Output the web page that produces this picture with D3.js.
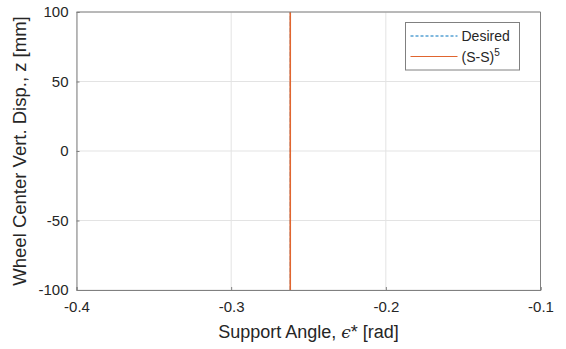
<!DOCTYPE html>
<html>
<head>
<meta charset="utf-8">
<script src="https://cdn.jsdelivr.net/npm/d3@7"></script>
<style>
  body { margin: 0; background: #fff; }
  text { font-family: "Liberation Sans", Arial, sans-serif; fill: #262626; }
</style>
</head>
<body>
<div id="chart"></div>
<script>
// series data
const desiredX = [-0.2618, -0.2618];
const desiredZ = [-100, 100];
const ssX = [-0.2618, -0.2618];
const ssZ = [-100, 100];

const xTicks = [-0.4, -0.3, -0.2, -0.1];
const yTicks = [-100, -50, 0, 50, 100];
const legendLabels = ['Desired', '(S-S)'];

const width = 566, height = 349;
const margin = {top: 12, right: 25.5, bottom: 59, left: 76.5};

const svg = d3.select('#chart').append('svg')
    .attr('width', width)
    .attr('height', height);

const x = d3.scaleLinear().domain([-0.4, -0.1]).range([margin.left, width - margin.right]);
const y = d3.scaleLinear().domain([-100, 100]).range([height - margin.bottom, margin.top]);

// grid
svg.append('g')
    .selectAll('line.gx')
    .data(xTicks)
    .join('line')
    .attr('x1', d => x(d)).attr('x2', d => x(d))
    .attr('y1', y(-100)).attr('y2', y(100))
    .attr('stroke', '#e3e3e3');

svg.append('g')
    .selectAll('line.gy')
    .data(yTicks)
    .join('line')
    .attr('x1', x(-0.4)).attr('x2', x(-0.1))
    .attr('y1', d => y(d)).attr('y2', d => y(d))
    .attr('stroke', '#e3e3e3');

// data lines (desired sits under the S-S curve)
const line = d3.line().x(d => x(d[0])).y(d => y(d[1]));

svg.append('path')
    .datum(desiredX.map((v, i) => [v, desiredZ[i]]))
    .attr('d', line)
    .attr('fill', 'none')
    .attr('stroke', '#0072BD')
    .attr('stroke-width', 0.8)
    .attr('stroke-dasharray', '4,2');

svg.append('path')
    .datum(ssX.map((v, i) => [v, ssZ[i]]))
    .attr('d', line)
    .attr('fill', 'none')
    .attr('stroke', '#E0652F')
    .attr('stroke-width', 1.6);

// axes, hyphen minus like the original
const hy = f => d => f(d).replace('\u2212', '-');
const xAxis = d3.axisBottom(x).tickValues(xTicks).tickSize(-3).tickPadding(8).tickFormat(hy(d3.format('.1f')));
const yAxis = d3.axisLeft(y).tickValues(yTicks).tickSize(-3).tickPadding(8).tickFormat(hy(d3.format('d')));

const gx = svg.append('g').attr('transform', `translate(0,${y(-100)})`).call(xAxis);
const gy = svg.append('g').attr('transform', `translate(${x(-0.4)},0)`).call(yAxis);
[gx, gy].forEach(g => {
    g.select('.domain').attr('stroke', '#808080');
    g.selectAll('.tick line').attr('stroke', '#808080');
    g.selectAll('.tick text').attr('font-size', 15).attr('fill', '#262626')
        .style('font-family', '"Liberation Sans", Arial, sans-serif');
});
gx.selectAll('.tick text').attr('dy', '0.9em');

// top and right box edges
svg.append('line')
    .attr('x1', x(-0.4)).attr('x2', x(-0.1))
    .attr('y1', y(100)).attr('y2', y(100))
    .attr('stroke', '#808080');
svg.append('line')
    .attr('x1', x(-0.1)).attr('x2', x(-0.1))
    .attr('y1', y(100)).attr('y2', y(-100))
    .attr('stroke', '#808080');

// axis labels
const xl = svg.append('text')
    .attr('x', (x(-0.4) + x(-0.1)) / 2)
    .attr('y', 338)
    .attr('text-anchor', 'middle')
    .attr('font-size', 18);
xl.append('tspan').text('Support Angle, ');
xl.append('tspan').text('\u03F5').style('font-family', '"DejaVu Serif", serif').style('font-style', 'italic').attr('font-size', 17);
xl.append('tspan').text('* [rad]');

svg.append('text')
    .attr('transform', `translate(26,${(y(100) + y(-100)) / 2}) rotate(-90)`)
    .attr('text-anchor', 'middle')
    .attr('font-size', 18.5)
    .text('Wheel Center Vert. Disp., z [mm]');

// legend
const lg = svg.append('g').attr('transform', 'translate(405.5,22.5)');
lg.append('rect')
    .attr('width', 114).attr('height', 47.5)
    .attr('fill', '#fff').attr('stroke', '#808080');

lg.append('line')
    .attr('x1', 5).attr('x2', 52).attr('y1', 13.5).attr('y2', 13.5)
    .attr('stroke', '#0072BD').attr('stroke-dasharray', '3,2');
lg.append('text').attr('x', 56).attr('y', 18.5).attr('font-size', 14).text(legendLabels[0]);

lg.append('line')
    .attr('x1', 5).attr('x2', 52).attr('y1', 34).attr('y2', 34)
    .attr('stroke', '#E0652F');
const t2 = lg.append('text').attr('x', 56).attr('y', 39.5).attr('font-size', 14);
t2.append('tspan').text(legendLabels[1]);
t2.append('tspan').text('5').attr('font-size', 10).attr('dy', -6);
</script>
</body>
</html>
